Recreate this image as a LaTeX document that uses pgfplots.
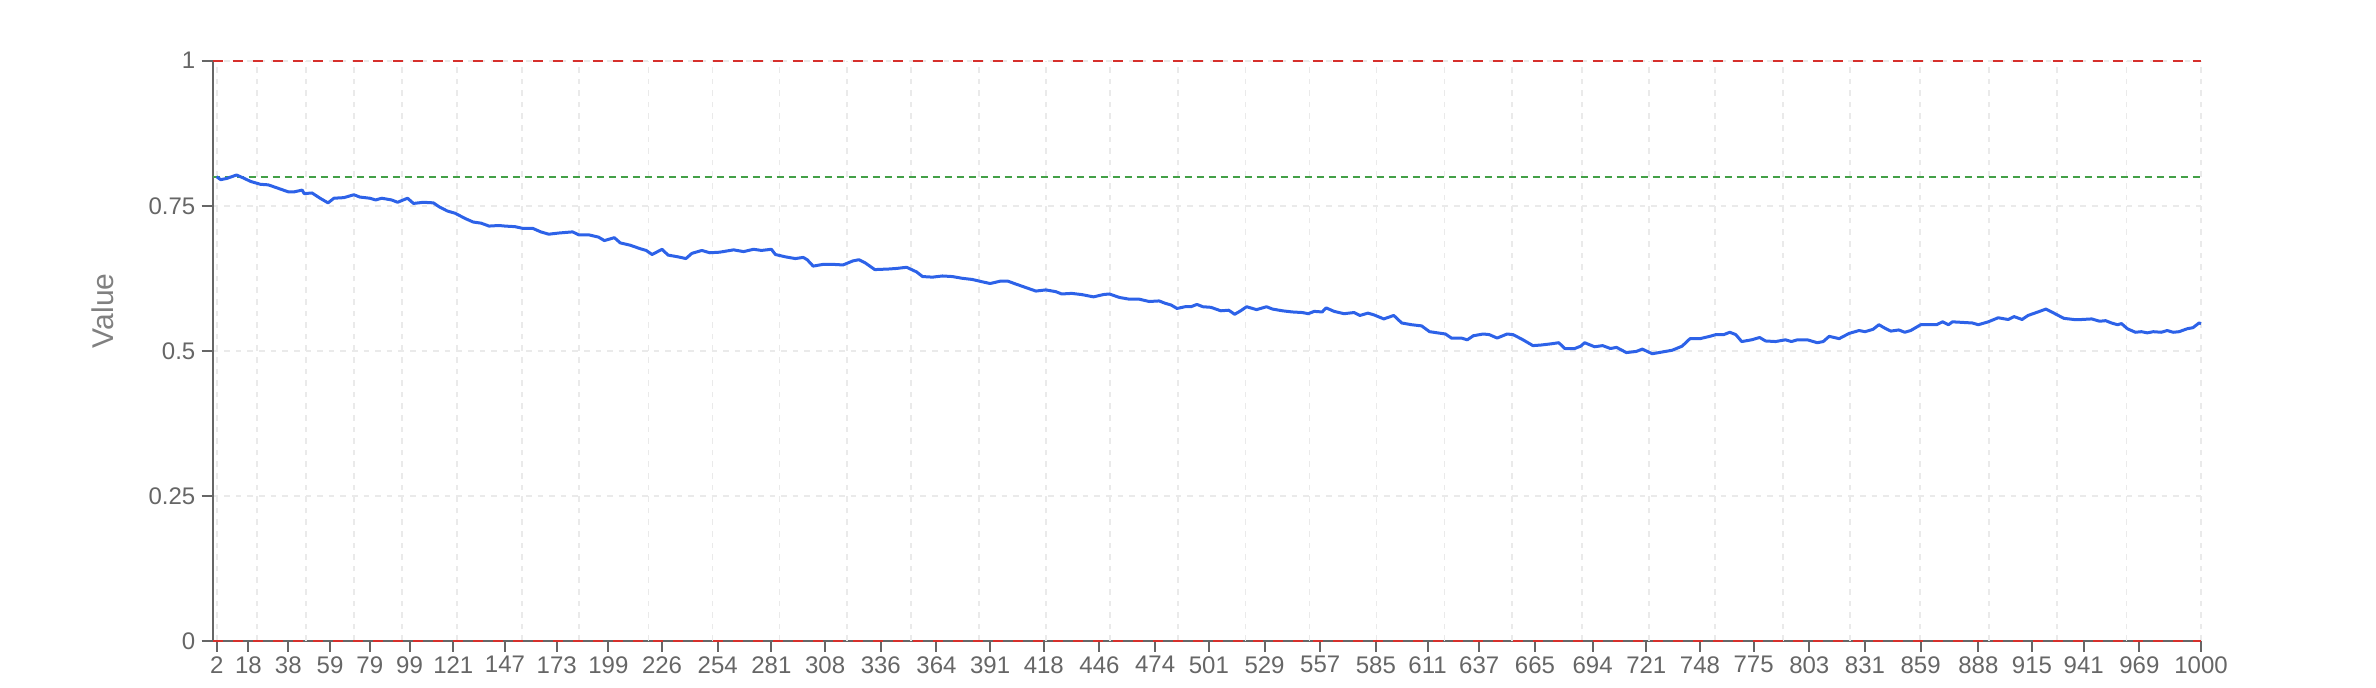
\documentclass[border=0pt]{standalone}
\usepackage{fontspec}
\setmainfont{Liberation Sans}
\usepackage{pgfplots}
\pgfplotsset{compat=1.18}
\definecolor{axisgray}{HTML}{666666}
\definecolor{labelgray}{HTML}{808080}
\definecolor{gridc}{HTML}{EAEAEA}
\definecolor{lineblue}{RGB}{45,98,232}
\definecolor{refred}{RGB}{214,48,44}
\definecolor{refgreen}{RGB}{67,160,71}
\begin{document}
\begin{tikzpicture}
\path[use as bounding box] (-106.35pt,-23.5pt) rectangle (1081.65pt,320.5pt);
\begin{axis}[
  at={(0pt,0pt)}, anchor=south west,
  scale only axis, width=994.15pt, height=290.15pt,
  xmin=0, xmax=1000, ymin=0, ymax=1,
  axis lines*=left,
  axis line style={axisgray, line width=1pt},
  tick align=outside,
  major tick length=5.5pt,
  tick style={axisgray, line width=1pt},
  xtick={2,18,38,59,79,99,121,147,173,199,226,254,281,308,336,364,391,418,446,474,501,529,557,585,611,637,665,694,721,748,775,803,831,859,888,915,941,969,1000},
  xticklabels={2,18,38,59,79,99,121,147,173,199,226,254,281,308,336,364,391,418,446,474,501,529,557,585,611,637,665,694,721,748,775,803,831,859,888,915,941,969,1000},
  ytick={0,0.25,0.5,0.75,1},
  yticklabels={0,0.25,0.5,0.75,1},
  ymajorgrids,
  extra x ticks={2,22.1,46.9,71.1,95.1,122.9,155.5,184.3,219.2,251.4,285.1,319.2,351.4,385.3,419.1,451.2,485.3,519.4,551.6,585.3,619.5,653.4,688.5,722.2,755.4,789.7,823.4,858.6,893.2,927.5,962.5,1000},
  extra x tick style={xmajorgrids=true, major tick length=0pt, xticklabel={}},
  major grid style={gridc, line width=0.9pt, dash pattern=on 2.8pt off 3pt},
  ticklabel style={font=\fontsize{12}{14}\selectfont, text=axisgray},
  xticklabel style={inner sep=2pt},
  yticklabel style={inner sep=3pt},
  ylabel={Value},
  ylabel style={at={(axis description cs:-0.0552,0.569)}, anchor=center, font=\fontsize{15}{18}\selectfont, text=labelgray},
  clip=false,
]
\addplot[refred, line width=1pt, dash pattern=on 5pt off 5pt] coordinates {(0,1) (1000,1)};
\addplot[refgreen, line width=1pt, dash pattern=on 3.6pt off 2.4pt] coordinates {(0,0.8) (1000,0.8)};
\addplot[refred, line width=1pt, dash pattern=on 5pt off 5pt] coordinates {(0,0) (1000,0)};
\addplot[lineblue, line width=1.5pt, line join=round] coordinates {
(2,0.800) (4,0.795) (7,0.797) (12,0.803) (16,0.797) (19,0.792) (24,0.787) (28,0.786) (33,0.780) (38,0.774) (41,0.774) (45,0.777) (46,0.771) (50,0.772) (54,0.763) (58,0.755) (61,0.763) (66,0.764) (71,0.769) (74,0.765) (79,0.763) (82,0.760) (85,0.763) (90,0.760) (93,0.756) (98,0.763) (101,0.754) (106,0.756) (111,0.755) (114,0.748) (118,0.741) (122,0.737) (127,0.728) (131,0.722) (135,0.720) (139,0.715) (144,0.716) (147,0.715) (152,0.714) (156,0.711) (161,0.711) (165,0.705) (169,0.701) (174,0.703) (181,0.705) (184,0.700) (189,0.700) (194,0.696) (197,0.690) (202,0.695) (205,0.686) (210,0.682) (215,0.676) (218,0.673) (221,0.666) (226,0.675) (229,0.665) (234,0.662) (238,0.659) (241,0.668) (246,0.673) (250,0.669) (255,0.670) (262,0.674) (267,0.671) (272,0.675) (276,0.673) (281,0.675) (283,0.666) (288,0.662) (293,0.659) (297,0.661) (299,0.657) (302,0.646) (307,0.649) (312,0.649) (317,0.648) (322,0.655) (325,0.657) (328,0.652) (333,0.640) (340,0.641) (344,0.642) (349,0.644) (354,0.636) (357,0.628) (362,0.627) (367,0.629) (372,0.628) (377,0.625) (382,0.623) (387,0.619) (391,0.616) (396,0.620) (400,0.620) (404,0.615) (409,0.609) (414,0.603) (419,0.605) (424,0.602) (427,0.598) (432,0.599) (437,0.597) (443,0.593) (448,0.597) (451,0.598) (456,0.592) (461,0.589) (466,0.589) (471,0.585) (476,0.586) (479,0.582) (482,0.579) (485,0.573) (489,0.576) (492,0.576) (495,0.580) (498,0.576)
(502,0.575) (507,0.569) (511,0.570) (514,0.563) (517,0.569) (520,0.576) (525,0.571) (530,0.576) (533,0.572) (538,0.569) (543,0.567) (548,0.566) (551,0.564) (554,0.568) (558,0.567) (560,0.574) (564,0.568) (569,0.564) (574,0.566) (577,0.561) (581,0.565) (584,0.562) (589,0.555) (594,0.561) (598,0.548) (603,0.545) (608,0.543) (612,0.533) (616,0.531) (620,0.529) (623,0.522) (628,0.522) (631,0.519) (634,0.526) (639,0.529) (642,0.528) (646,0.522) (651,0.529) (654,0.528) (659,0.519) (664,0.509) (668,0.510) (673,0.512) (677,0.514) (680,0.504) (685,0.504) (688,0.508) (690,0.514) (695,0.507) (699,0.509) (703,0.504) (706,0.506) (711,0.497) (716,0.499) (719,0.503) (724,0.495) (729,0.498) (734,0.501) (739,0.508) (743,0.521) (748,0.521) (753,0.525) (756,0.528) (760,0.528) (763,0.532) (766,0.528) (769,0.516) (774,0.519) (778,0.523) (781,0.517) (786,0.516) (791,0.519) (794,0.516) (797,0.519) (802,0.519) (807,0.514) (810,0.516) (813,0.525) (818,0.521) (823,0.530) (828,0.535) (831,0.533) (835,0.537) (838,0.545) (841,0.539) (844,0.534) (848,0.536) (851,0.532) (854,0.535) (859,0.545) (864,0.545) (867,0.545) (870,0.550) (873,0.545) (875,0.550) (880,0.549) (885,0.548) (888,0.545) (893,0.550) (898,0.557) (903,0.554) (906,0.559) (910,0.554) (913,0.561) (918,0.567) (922,0.572) (926,0.565) (931,0.556) (936,0.554) (940,0.554) (945,0.555) (949,0.551) (952,0.552) (955,0.548) (958,0.545) (960,0.547) (963,0.538) (967,0.532) (970,0.533) (973,0.531) (976,0.533) (980,0.532) (983,0.535) (986,0.532) (989,0.533) (993,0.538) (996,0.540) (999,0.548) (1000,0.547)
};
\end{axis}
\end{tikzpicture}
\end{document}
